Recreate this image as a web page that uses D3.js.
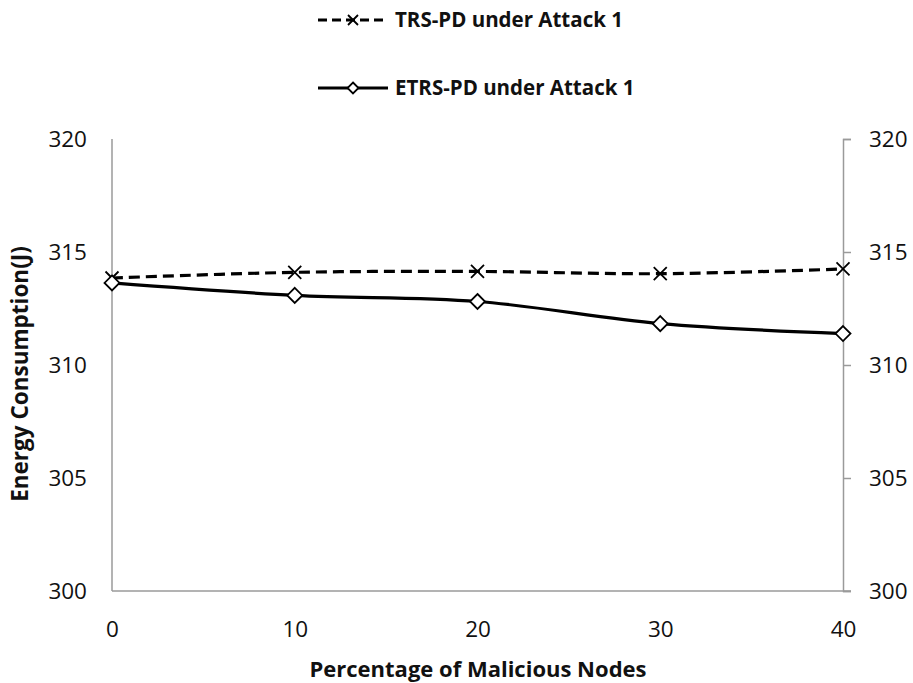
<!DOCTYPE html>
<html><head><meta charset="utf-8">
<script src="https://cdn.jsdelivr.net/npm/d3@7"></script>
<style>body{margin:0;background:#fff;} text{font-family:"Open Sans","Liberation Sans",sans-serif;}</style>
</head><body>
<svg id="c" width="913" height="683"></svg>
<script>
const categories = [0, 10, 20, 30, 40];
const trsValues = [313.85, 314.1, 314.14, 314.04, 314.25];
const etrsValues = [313.63, 313.08, 312.81, 311.83, 311.39];
const yTicks = [300, 305, 310, 315, 320];
const seriesNames = ["TRS-PD under Attack 1", "ETRS-PD under Attack 1"];
const xTitle = "Percentage of Malicious Nodes";
const yTitle = "Energy Consumption(J)";

const svg = d3.select("#c");
const x = d3.scaleLinear().domain([0, 40]).range([112, 843]);
const y = d3.scaleLinear().domain([300, 320]).range([591, 139]);
const axisColor = "#9a9a9a";
const tickFont = 22.5;

svg.append("line").attr("x1", x(0)).attr("x2", x(0)).attr("y1", y(320)).attr("y2", y(300))
  .attr("stroke", axisColor).attr("stroke-width", 1.5);
svg.append("line").attr("x1", x(0)).attr("x2", x(40) + 8).attr("y1", y(300)).attr("y2", y(300))
  .attr("stroke", axisColor).attr("stroke-width", 1.5);
const right = svg.append("g").attr("transform", `translate(${x(40)},0)`)
  .call(d3.axisRight(y).tickValues(yTicks).tickSize(8).tickPadding(18));
right.select(".domain").attr("stroke", axisColor).attr("stroke-width", 1.5);
right.selectAll(".tick line").attr("stroke", axisColor).attr("stroke-width", 1.5);
right.selectAll(".tick text").attr("font-size", tickFont).attr("fill", "#111")
  .attr("font-family", "'Open Sans',sans-serif");

const left = svg.append("g").attr("transform", `translate(${x(0)},0)`)
  .call(d3.axisLeft(y).tickValues(yTicks).tickSize(0).tickPadding(25));
left.select(".domain").remove();
left.selectAll(".tick text").attr("font-size", tickFont).attr("fill", "#111")
  .attr("font-family", "'Open Sans',sans-serif");

const bottom = svg.append("g").attr("transform", `translate(0,${y(300)})`)
  .call(d3.axisBottom(x).tickValues(categories).tickSize(0).tickPadding(30));
bottom.select(".domain").remove();
bottom.selectAll(".tick text").attr("font-size", tickFont).attr("fill", "#111")
  .attr("font-family", "'Open Sans',sans-serif");

svg.append("text").attr("x", 478).attr("y", 677).attr("text-anchor", "middle")
  .attr("font-size", 22).attr("font-weight", "bold").attr("fill", "#111").text(xTitle);
svg.append("text").attr("transform", "translate(28,374) rotate(-90)").attr("text-anchor", "middle")
  .attr("font-size", 22.5).attr("font-weight", "bold").attr("fill", "#111").text(yTitle);

const line = d3.line().x((d, i) => x(categories[i])).y(d => y(d)).curve(d3.curveCatmullRom.alpha(0.5));

svg.append("path").datum(trsValues).attr("d", line).attr("fill", "none")
  .attr("stroke", "#000").attr("stroke-width", 3.2).attr("stroke-dasharray", "11,6");
svg.append("path").datum(etrsValues).attr("d", line).attr("fill", "none")
  .attr("stroke", "#000").attr("stroke-width", 3.2);

function xMark(g, cx, cy, s) {
  g.append("path").attr("d", `M${cx - s},${cy - s}L${cx + s},${cy + s}M${cx - s},${cy + s}L${cx + s},${cy - s}`)
    .attr("stroke", "#000").attr("stroke-width", 1.8).attr("fill", "none");
}
function diamond(g, cx, cy, s) {
  g.append("path").attr("d", `M${cx},${cy - s}L${cx + s},${cy}L${cx},${cy + s}L${cx - s},${cy}Z`)
    .attr("stroke", "#000").attr("stroke-width", 1.8).attr("fill", "#fff");
}
const mk = svg.append("g");
trsValues.forEach((v, i) => xMark(mk, x(categories[i]), y(v), 6.5));
etrsValues.forEach((v, i) => diamond(mk, x(categories[i]), y(v), 7.5));

const lg = svg.append("g");
lg.append("line").attr("x1", 318).attr("x2", 388).attr("y1", 20).attr("y2", 20)
  .attr("stroke", "#000").attr("stroke-width", 3).attr("stroke-dasharray", "9,5");
xMark(lg, 353, 20, 5);
lg.append("text").attr("x", 395).attr("y", 20).attr("dy", "0.35em").attr("font-size", 20.5)
  .attr("font-weight", "bold").attr("fill", "#111").text(seriesNames[0]);
lg.append("line").attr("x1", 318).attr("x2", 388).attr("y1", 88).attr("y2", 88)
  .attr("stroke", "#000").attr("stroke-width", 3);
diamond(lg, 353, 88, 5.5);
lg.append("text").attr("x", 395).attr("y", 88).attr("dy", "0.35em").attr("font-size", 20.5)
  .attr("font-weight", "bold").attr("fill", "#111").text(seriesNames[1]);
</script>
</body></html>
